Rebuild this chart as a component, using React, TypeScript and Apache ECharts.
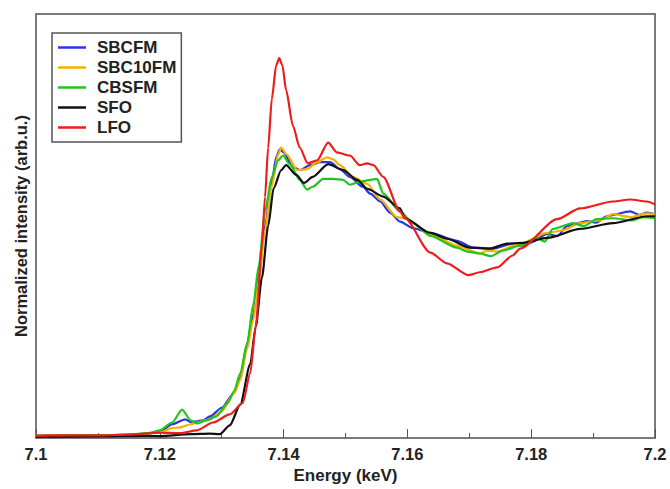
import React, { useEffect, useRef } from "react";
import * as echarts from "echarts";

const seriesNames = ["SBCFM", "SBC10FM", "CBSFM", "SFO", "LFO"];
const seriesColors = ["#2a36e0", "#f7b000", "#1fc41f", "#111111", "#ee1c1c"];
const xTicks = [7.1, 7.12, 7.14, 7.16, 7.18, 7.2];

const sbcfm: [number, number][] = [
  [7.1, 0.01], [7.105, 0.013], [7.11, 0.01], [7.115, 0.015], [7.118, 0.02], [7.12, 0.028],
  [7.122, 0.062], [7.1241, 0.084], [7.125, 0.072], [7.127, 0.079], [7.1281, 0.097], [7.13, 0.136],
  [7.132, 0.202], [7.133, 0.268], [7.1341, 0.422], [7.1351, 0.554], [7.136, 0.73], [7.137, 0.95],
  [7.1381, 1.148], [7.1388, 1.258], [7.1394, 1.295], [7.14, 1.28], [7.1415, 1.214], [7.1426, 1.201],
  [7.1443, 1.223], [7.1459, 1.236], [7.1475, 1.236], [7.1491, 1.205], [7.1507, 1.17], [7.1528, 1.126],
  [7.154, 1.095], [7.1556, 1.06], [7.1572, 1.01], [7.1588, 0.97], [7.1609, 0.941], [7.1637, 0.919],
  [7.168, 0.884], [7.1706, 0.853], [7.1738, 0.849], [7.177, 0.871], [7.1785, 0.862], [7.1798, 0.875],
  [7.1826, 0.915], [7.1842, 0.905], [7.1858, 0.95], [7.189, 0.972], [7.1905, 0.965], [7.1922, 0.994],
  [7.196, 1.016], [7.1975, 1.0], [7.1987, 1.01], [7.2, 1.003],
];

const sbc10fm: [number, number][] = [
  [7.1, 0.01], [7.105, 0.012], [7.11, 0.011], [7.115, 0.015], [7.118, 0.02], [7.12, 0.026],
  [7.122, 0.045], [7.1233, 0.048], [7.125, 0.062], [7.126, 0.07], [7.128, 0.084], [7.13, 0.12],
  [7.132, 0.2], [7.133, 0.26], [7.1341, 0.4], [7.1351, 0.53], [7.136, 0.71], [7.137, 0.93],
  [7.1381, 1.13], [7.1391, 1.27], [7.1396, 1.302], [7.1405, 1.27], [7.1422, 1.201], [7.1438, 1.205],
  [7.1454, 1.236], [7.147, 1.258], [7.148, 1.249], [7.1491, 1.223], [7.1512, 1.17], [7.1535, 1.139],
  [7.1556, 1.07], [7.1583, 0.99], [7.1596, 0.985], [7.1637, 0.915], [7.168, 0.862], [7.1717, 0.827],
  [7.173, 0.84], [7.1745, 0.836], [7.1782, 0.871], [7.1826, 0.919], [7.185, 0.93], [7.1879, 0.963],
  [7.191, 0.975], [7.1932, 1.003], [7.196, 0.99], [7.1987, 1.007], [7.2, 1.003],
];

const cbsfm: [number, number][] = [
  [7.1, 0.01], [7.11, 0.012], [7.115, 0.016], [7.1181, 0.022], [7.12, 0.035], [7.122, 0.07],
  [7.1236, 0.128], [7.125, 0.079], [7.126, 0.066], [7.1275, 0.079], [7.1291, 0.097], [7.131, 0.158],
  [7.132, 0.211], [7.133, 0.29], [7.1341, 0.422], [7.1351, 0.598], [7.136, 0.774], [7.137, 1.016],
  [7.1381, 1.17], [7.1391, 1.244], [7.1399, 1.266], [7.141, 1.227], [7.1426, 1.157], [7.1438, 1.113],
  [7.1447, 1.126], [7.1464, 1.161], [7.148, 1.161], [7.1496, 1.157], [7.1507, 1.135], [7.1523, 1.148],
  [7.154, 1.157], [7.1551, 1.161], [7.1561, 1.095], [7.1588, 1.016], [7.1609, 0.963], [7.1637, 0.906],
  [7.168, 0.853], [7.1698, 0.835], [7.1717, 0.827], [7.1735, 0.815], [7.1754, 0.84], [7.1782, 0.862],
  [7.1809, 0.897], [7.1822, 0.88], [7.1835, 0.937], [7.1868, 0.963], [7.1885, 0.95], [7.1906, 0.981],
  [7.1932, 0.985], [7.1964, 0.975], [7.198, 0.99], [7.2, 0.985],
];

const sfo: [number, number][] = [
  [7.1, 0.005], [7.11, 0.008], [7.118, 0.01], [7.12, 0.009], [7.125, 0.018], [7.128, 0.02],
  [7.1297, 0.018], [7.1313, 0.057], [7.133, 0.15], [7.1346, 0.33], [7.1355, 0.5], [7.1365, 0.72],
  [7.1375, 0.95], [7.1384, 1.12], [7.1396, 1.2], [7.1404, 1.223], [7.142, 1.18], [7.1433, 1.143],
  [7.1447, 1.17], [7.1472, 1.227], [7.1496, 1.201], [7.1519, 1.157], [7.1535, 1.117], [7.1561, 1.082],
  [7.1588, 1.029], [7.1596, 0.985], [7.1637, 0.919], [7.1664, 0.893], [7.1701, 0.853], [7.1733, 0.849],
  [7.1761, 0.871], [7.1787, 0.875], [7.1826, 0.897], [7.1879, 0.937], [7.1932, 0.963], [7.1987, 0.994], [7.2, 0.994],
];

const lfo: [number, number][] = [
  [7.1, 0.01], [7.105, 0.012], [7.11, 0.012], [7.115, 0.016], [7.12, 0.024], [7.1233, 0.022],
  [7.126, 0.035], [7.1286, 0.07], [7.1313, 0.106], [7.1334, 0.158], [7.1346, 0.29], [7.1355, 0.5],
  [7.1365, 0.862], [7.137, 1.08], [7.1375, 1.3], [7.1381, 1.52], [7.1388, 1.67], [7.1393, 1.702],
  [7.1398, 1.67], [7.1404, 1.56], [7.1415, 1.4], [7.1426, 1.302], [7.1439, 1.231], [7.1454, 1.244],
  [7.1472, 1.324], [7.1486, 1.28], [7.1507, 1.266], [7.1523, 1.223], [7.1535, 1.231], [7.1545, 1.223],
  [7.1561, 1.17], [7.1588, 1.016], [7.1596, 0.985], [7.1637, 0.831], [7.1664, 0.783], [7.1698, 0.73],
  [7.1717, 0.743], [7.1745, 0.765], [7.177, 0.818], [7.1782, 0.849], [7.1842, 0.981], [7.1879, 1.029],
  [7.1932, 1.06], [7.196, 1.069], [7.1987, 1.06], [7.2, 1.047],
];

const allData = [sbcfm, sbc10fm, cbsfm, sfo, lfo];

const FONT = "'Liberation Sans', Arial, Helvetica, sans-serif";

export default function App() {
  const ref = useRef<HTMLDivElement>(null);
  useEffect(() => {
    if (!ref.current) return;
    const chart = echarts.init(ref.current, null, { renderer: "svg" });
    chart.setOption({
      animation: false,
      backgroundColor: "#ffffff",
      grid: {
        left: 36,
        right: 15,
        top: 14,
        bottom: 43,
        show: true,
        borderColor: "#7a7a7a",
        borderWidth: 2,
      },
      legend: {
        orient: "vertical",
        left: 52,
        top: 33,
        data: seriesNames,
        icon: "rect",
        itemWidth: 28,
        itemHeight: 2.5,
        itemGap: 3,
        padding: [6, 5, 6, 6],
        borderColor: "#555555",
        borderWidth: 1.5,
        textStyle: {
          fontFamily: FONT,
          fontWeight: "bold",
          fontSize: 17,
          color: "#222222",
          lineHeight: 17,
          padding: [0, 0, 0, 6],
        },
      },
      xAxis: {
        type: "value",
        min: 7.1,
        max: 7.2,
        interval: 0.02,
        name: "Energy (keV)",
        nameLocation: "middle",
        nameGap: 25,
        nameTextStyle: { fontFamily: FONT, fontWeight: "bold", fontSize: 17, color: "#222222" },
        axisLine: { show: true, lineStyle: { color: "#7a7a7a", width: 2 } },
        axisTick: { show: true, inside: true, length: 9, lineStyle: { color: "#555555", width: 1 } },
        minorTick: { show: true, splitNumber: 2, length: 5, lineStyle: { color: "#555555", width: 1 } },
        axisLabel: {
          fontFamily: FONT,
          fontWeight: "bold",
          fontSize: 16.5,
          color: "#222222",
          margin: 7,
          formatter: (v: number) => String(parseFloat(v.toFixed(2))),
        },
        splitLine: { show: false },
      },
      yAxis: {
        type: "value",
        min: 0,
        max: 1.9,
        name: "Normalized intensity (arb.u.)",
        nameLocation: "middle",
        nameGap: 7,
        nameTextStyle: { fontFamily: FONT, fontWeight: "bold", fontSize: 16.5, color: "#222222" },
        axisLine: { show: true, lineStyle: { color: "#7a7a7a", width: 2 } },
        axisTick: { show: false },
        axisLabel: { show: false },
        splitLine: { show: false },
      },
      series: seriesNames.map((name, i) => ({
        name,
        type: "line",
        data: allData[i],
        showSymbol: false,
        smooth: 0.25,
        smoothMonotone: "x",
        lineStyle: { color: seriesColors[i], width: 2.2 },
        itemStyle: { color: seriesColors[i] },
        z: i === 4 ? 5 : 3,
      })),
    });
    return () => chart.dispose();
  }, []);
  return <div ref={ref} style={{ width: 670, height: 489, position: "absolute", left: 0, top: 0 }} />;
}
